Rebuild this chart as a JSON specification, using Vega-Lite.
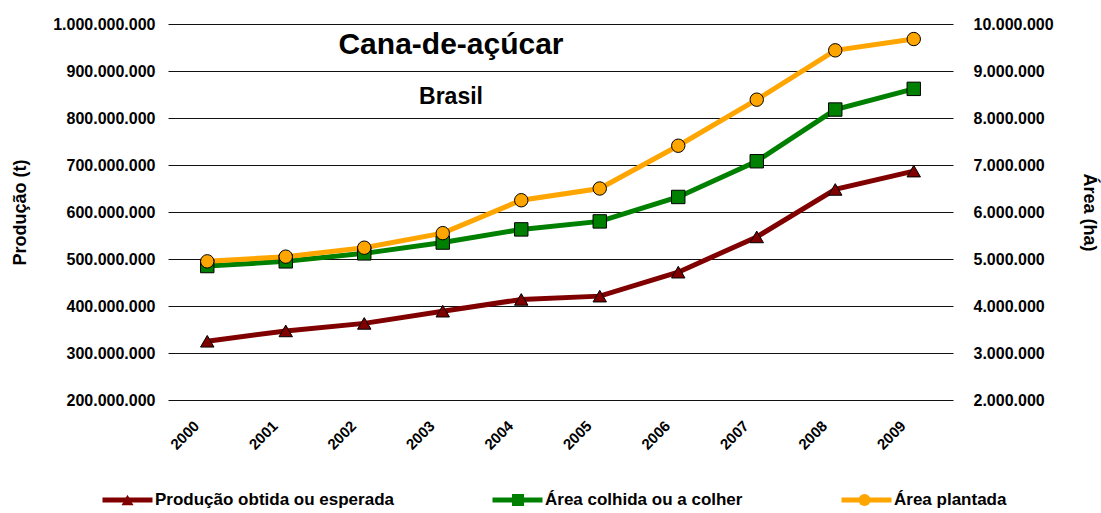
{
  "$schema": "https://vega.github.io/schema/vega-lite/v6.json",
  "width": 785,
  "height": 376,
  "autosize": {"type": "none"},
  "padding": {"left": 168, "top": 24, "right": 148, "bottom": 113},
  "background": "white",
  "title": {
    "text": "Cana-de-açúcar",
    "subtitle": "Brasil",
    "anchor": "start",
    "frame": "group",
    "align": "center",
    "dx": 283,
    "offset": -93,
    "font": "Liberation Sans",
    "fontSize": 30,
    "fontWeight": "bold",
    "color": "#000000",
    "subtitleFont": "Liberation Sans",
    "subtitleFontSize": 23,
    "subtitleFontWeight": "bold",
    "subtitleColor": "#000000",
    "subtitlePadding": 26
  },
  "data": {
    "values": [
      {"ano": "2000", "serie": "Produção obtida ou esperada", "valor": 325000000},
      {"ano": "2001", "serie": "Produção obtida ou esperada", "valor": 347000000},
      {"ano": "2002", "serie": "Produção obtida ou esperada", "valor": 363000000},
      {"ano": "2003", "serie": "Produção obtida ou esperada", "valor": 389000000},
      {"ano": "2004", "serie": "Produção obtida ou esperada", "valor": 414000000},
      {"ano": "2005", "serie": "Produção obtida ou esperada", "valor": 421000000},
      {"ano": "2006", "serie": "Produção obtida ou esperada", "valor": 472000000},
      {"ano": "2007", "serie": "Produção obtida ou esperada", "valor": 547000000},
      {"ano": "2008", "serie": "Produção obtida ou esperada", "valor": 648000000},
      {"ano": "2009", "serie": "Produção obtida ou esperada", "valor": 687000000},
      {"ano": "2000", "serie": "Área colhida ou a colher", "valor": 4850000},
      {"ano": "2001", "serie": "Área colhida ou a colher", "valor": 4950000},
      {"ano": "2002", "serie": "Área colhida ou a colher", "valor": 5120000},
      {"ano": "2003", "serie": "Área colhida ou a colher", "valor": 5350000},
      {"ano": "2004", "serie": "Área colhida ou a colher", "valor": 5630000},
      {"ano": "2005", "serie": "Área colhida ou a colher", "valor": 5800000},
      {"ano": "2006", "serie": "Área colhida ou a colher", "valor": 6320000},
      {"ano": "2007", "serie": "Área colhida ou a colher", "valor": 7080000},
      {"ano": "2008", "serie": "Área colhida ou a colher", "valor": 8180000},
      {"ano": "2009", "serie": "Área colhida ou a colher", "valor": 8620000},
      {"ano": "2000", "serie": "Área plantada", "valor": 4950000},
      {"ano": "2001", "serie": "Área plantada", "valor": 5050000},
      {"ano": "2002", "serie": "Área plantada", "valor": 5240000},
      {"ano": "2003", "serie": "Área plantada", "valor": 5550000},
      {"ano": "2004", "serie": "Área plantada", "valor": 6250000},
      {"ano": "2005", "serie": "Área plantada", "valor": 6500000},
      {"ano": "2006", "serie": "Área plantada", "valor": 7410000},
      {"ano": "2007", "serie": "Área plantada", "valor": 8390000},
      {"ano": "2008", "serie": "Área plantada", "valor": 9440000},
      {"ano": "2009", "serie": "Área plantada", "valor": 9680000}
    ]
  },
  "encoding": {
    "x": {
      "field": "ano",
      "type": "ordinal",
      "title": null,
      "axis": {
        "labelAngle": -45,
        "domain": false,
        "ticks": false,
        "grid": false,
        "labelPadding": 18,
        "labelOffset": -16,
        "labelFont": "Liberation Sans",
        "labelFontSize": 15,
        "labelFontWeight": "bold",
        "labelColor": "#000000"
      }
    }
  },
  "layer": [
    {
      "transform": [{"filter": {"field": "serie", "equal": "Produção obtida ou esperada"}}],
      "mark": {"type": "line", "strokeWidth": 5},
      "encoding": {
        "y": {
          "field": "valor",
          "type": "quantitative",
          "scale": {"domain": [200000000, 1000000000], "nice": false, "zero": false},
          "axis": {
            "orient": "left",
            "title": "Produção (t)",
            "values": [200000000, 300000000, 400000000, 500000000, 600000000, 700000000, 800000000, 900000000, 1000000000],
            "format": ",d",
            "grid": true,
            "gridColor": "#111111",
            "gridWidth": 1,
            "domain": false,
            "ticks": false,
            "labelPadding": 13,
            "labelFont": "Liberation Sans",
            "labelFontSize": 16,
            "labelFontWeight": "bold",
            "labelColor": "#000000",
            "titleFont": "Liberation Sans",
            "titleFontSize": 18,
            "titleFontWeight": "bold",
            "titleColor": "#000000",
            "titleX": -148,
            "titleY": 188,
            "titleAngle": -90,
            "titleAlign": "center",
            "titleBaseline": "middle"
          }
        },
        "color": {
          "field": "serie",
          "type": "nominal",
          "scale": {
            "domain": ["Produção obtida ou esperada", "Área colhida ou a colher", "Área plantada"],
            "range": ["#800000", "#008000", "#FFA500"]
          },
          "legend": {
            "orient": "none",
            "legendX": -68,
            "legendY": 466,
            "direction": "horizontal",
            "title": null,
            "symbolType": "stroke",
            "symbolSize": 2500,
            "symbolStrokeWidth": 5,
            "clipHeight": 20,
            "labelOffset": 0,
            "labelLimit": 0,
            "columnPadding": 96,
            "labelFont": "Liberation Sans",
            "labelFontSize": 17,
            "labelFontWeight": "bold",
            "labelColor": "#000000",
            "padding": 0
          }
        }
      }
    },
    {
      "transform": [{"filter": {"field": "serie", "equal": "Produção obtida ou esperada"}}],
      "mark": {"type": "point", "filled": true, "size": 180, "stroke": "#000000", "strokeWidth": 1, "opacity": 1},
      "encoding": {
        "y": {
          "field": "valor",
          "type": "quantitative",
          "scale": {"domain": [200000000, 1000000000], "nice": false, "zero": false},
          "axis": null
        },
        "fill": {
          "field": "serie",
          "type": "nominal",
          "scale": {"domain": ["Produção obtida ou esperada"], "range": ["#800000"]},
          "legend": {
            "orient": "none",
            "legendX": -47,
            "legendY": 466,
            "title": null,
            "symbolSize": 144,
            "symbolStrokeWidth": 1,
            "symbolStrokeColor": "#000000",
            "clipHeight": 20,
            "labelExpr": "''",
            "labelFontSize": 10,
            "padding": 0
          }
        },
        "shape": {
          "field": "serie",
          "type": "nominal",
          "scale": {"domain": ["Produção obtida ou esperada"], "range": ["triangle-up"]},
          "legend": {
            "orient": "none",
            "legendX": -47,
            "legendY": 466,
            "title": null,
            "symbolSize": 144,
            "symbolStrokeWidth": 1,
            "symbolStrokeColor": "#000000",
            "clipHeight": 20,
            "labelExpr": "''",
            "labelFontSize": 10,
            "padding": 0
          }
        }
      }
    },
    {
      "transform": [{"filter": {"field": "serie", "oneOf": ["Área colhida ou a colher", "Área plantada"]}}],
      "mark": {"type": "line", "strokeWidth": 5},
      "encoding": {
        "y": {
          "field": "valor",
          "type": "quantitative",
          "scale": {"domain": [2000000, 10000000], "nice": false, "zero": false},
          "axis": {
            "orient": "right",
            "title": "Área (ha)",
            "values": [2000000, 3000000, 4000000, 5000000, 6000000, 7000000, 8000000, 9000000, 10000000],
            "format": ",d",
            "grid": false,
            "domain": false,
            "ticks": false,
            "labelPadding": 20,
            "labelFont": "Liberation Sans",
            "labelFontSize": 16,
            "labelFontWeight": "bold",
            "labelColor": "#000000",
            "titleFont": "Liberation Sans",
            "titleFontSize": 18,
            "titleFontWeight": "bold",
            "titleColor": "#000000",
            "titleX": 135,
            "titleY": 188,
            "titleAngle": 90,
            "titleAlign": "center",
            "titleBaseline": "middle"
          }
        },
        "color": {
          "field": "serie",
          "type": "nominal",
          "scale": {
            "domain": ["Produção obtida ou esperada", "Área colhida ou a colher", "Área plantada"],
            "range": ["#800000", "#008000", "#FFA500"]
          }
        }
      }
    },
    {
      "transform": [{"filter": {"field": "serie", "equal": "Área colhida ou a colher"}}],
      "mark": {"type": "point", "filled": true, "size": 180, "stroke": "#000000", "strokeWidth": 1, "opacity": 1},
      "encoding": {
        "y": {
          "field": "valor",
          "type": "quantitative",
          "scale": {"domain": [2000000, 10000000], "nice": false, "zero": false},
          "axis": null
        },
        "fill": {
          "field": "serie",
          "type": "nominal",
          "scale": {"domain": ["Área colhida ou a colher"], "range": ["#008000"]},
          "legend": {
            "orient": "none",
            "legendX": 343.5,
            "legendY": 466,
            "title": null,
            "symbolSize": 144,
            "symbolStrokeWidth": 1,
            "symbolStrokeColor": "#000000",
            "clipHeight": 20,
            "labelExpr": "''",
            "labelFontSize": 10,
            "padding": 0
          }
        },
        "shape": {
          "field": "serie",
          "type": "nominal",
          "scale": {"domain": ["Área colhida ou a colher"], "range": ["square"]},
          "legend": {
            "orient": "none",
            "legendX": 343.5,
            "legendY": 466,
            "title": null,
            "symbolSize": 144,
            "symbolStrokeWidth": 1,
            "symbolStrokeColor": "#000000",
            "clipHeight": 20,
            "labelExpr": "''",
            "labelFontSize": 10,
            "padding": 0
          }
        }
      }
    },
    {
      "transform": [{"filter": {"field": "serie", "equal": "Área plantada"}}],
      "mark": {"type": "point", "filled": true, "size": 180, "stroke": "#000000", "strokeWidth": 1, "opacity": 1},
      "encoding": {
        "y": {
          "field": "valor",
          "type": "quantitative",
          "scale": {"domain": [2000000, 10000000], "nice": false, "zero": false},
          "axis": null
        },
        "fill": {
          "field": "serie",
          "type": "nominal",
          "scale": {"domain": ["Área plantada"], "range": ["#FFA500"]},
          "legend": {
            "orient": "none",
            "legendX": 690,
            "legendY": 466,
            "title": null,
            "symbolSize": 144,
            "symbolStrokeWidth": 1,
            "symbolStrokeColor": "#000000",
            "clipHeight": 20,
            "labelExpr": "''",
            "labelFontSize": 10,
            "padding": 0
          }
        },
        "shape": {
          "field": "serie",
          "type": "nominal",
          "scale": {"domain": ["Área plantada"], "range": ["circle"]},
          "legend": {
            "orient": "none",
            "legendX": 690,
            "legendY": 466,
            "title": null,
            "symbolSize": 144,
            "symbolStrokeWidth": 1,
            "symbolStrokeColor": "#000000",
            "clipHeight": 20,
            "labelExpr": "''",
            "labelFontSize": 10,
            "padding": 0
          }
        }
      }
    }
  ],
  "resolve": {"scale": {"y": "independent", "fill": "independent", "shape": "independent"}},
  "config": {
    "view": {"stroke": null},
    "locale": {
      "number": {"decimal": ",", "thousands": ".", "grouping": [3], "currency": ["R$", ""]}
    }
  }
}
